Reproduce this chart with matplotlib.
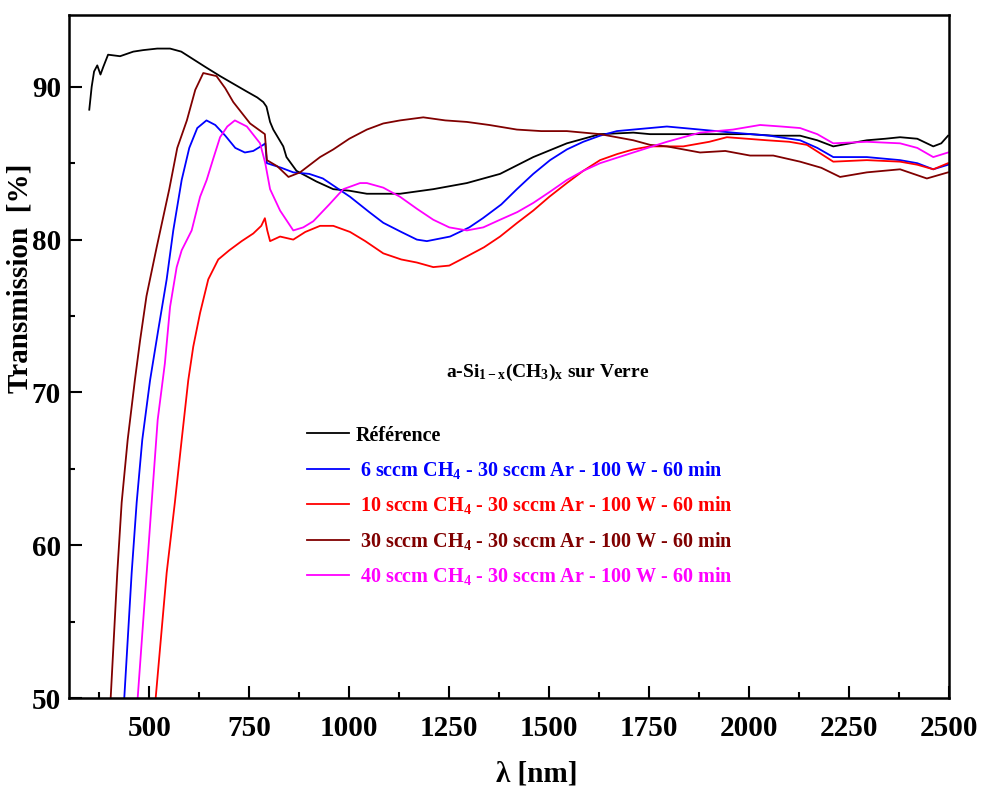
import matplotlib
matplotlib.use("Agg")
from matplotlib import pyplot as plt
from matplotlib.ticker import MultipleLocator

plt.rcParams['font.family'] = ['Liberation Serif', 'DejaVu Serif']
plt.rcParams['font.weight'] = 'bold'
plt.rcParams['mathtext.fontset'] = 'custom'
plt.rcParams['mathtext.rm'] = 'Liberation Serif:bold'
plt.rcParams['mathtext.it'] = 'Liberation Serif:bold'
plt.rcParams['mathtext.bf'] = 'Liberation Serif:bold'

# Référence (verre nu)
ref_x = [350, 356, 362, 370, 378, 385, 397, 427, 460, 485, 520, 552, 580, 610, 640,
         677, 710, 743, 770, 785, 793, 802, 810, 835, 843, 868, 918, 960, 1000, 1044,
         1127, 1210, 1294, 1377, 1460, 1544, 1627, 1710, 1752, 1800, 1877, 1960, 2002,
         2060, 2127, 2170, 2210, 2252, 2294, 2340, 2377, 2420, 2460, 2480, 2497]
ref_y = [88.5, 90.0, 91.0, 91.4, 90.8, 91.3, 92.1, 92.0, 92.3, 92.4, 92.5, 92.5, 92.3, 91.8, 91.3,
         90.7, 90.2, 89.7, 89.3, 89.0, 88.7, 87.7, 87.2, 86.1, 85.4, 84.5, 83.8, 83.3, 83.2, 83.0,
         83.0, 83.3, 83.7, 84.3, 85.4, 86.3, 86.9, 87.0, 86.9, 86.9, 86.9, 86.9, 86.9,
         86.8, 86.8, 86.5, 86.1, 86.3, 86.5, 86.6, 86.7, 86.6, 86.1, 86.3, 86.8]

# 6 sccm CH4
s6_x = [437.5, 456, 468.5, 482.5, 502, 522.5, 543.5, 560, 581, 600, 620, 643, 665, 690,
        715, 739, 760, 785, 790, 794, 830, 860, 900, 934, 1002, 1050, 1085, 1130, 1169,
        1194, 1252, 1300, 1334, 1380, 1419, 1460, 1502, 1544, 1585, 1627, 1669, 1710, 1752,
        1794, 1877, 1959, 2050, 2127, 2170, 2210, 2294, 2377, 2420, 2460, 2497]
s6_y = [50, 58.2, 62.8, 66.9, 70.8, 74.1, 77.4, 80.6, 83.9, 86.0, 87.3, 87.8, 87.5, 86.8,
        86.0, 85.7, 85.8, 86.2, 86.3, 85.0, 84.7, 84.4, 84.3, 84.0, 82.8, 81.8, 81.1, 80.5, 80.0,
        79.9, 80.2, 80.8, 81.4, 82.3, 83.3, 84.3, 85.2, 85.9, 86.4, 86.8, 87.1, 87.2, 87.3,
        87.4, 87.2, 87.0, 86.8, 86.5, 86.0, 85.4, 85.4, 85.2, 85.0, 84.6, 84.9]

# 10 sccm CH4
s10_x = [516, 543.5, 564, 581, 597.5, 610, 627, 647.5, 672.5, 700, 731, 760, 780, 789,
         795, 802, 827, 860, 890, 927, 960, 1002, 1040, 1085, 1130, 1169, 1210, 1250, 1294,
         1337, 1377, 1420, 1460, 1500, 1544, 1585, 1627, 1670, 1710, 1752, 1835, 1900, 1944,
         2044, 2100, 2144, 2210, 2294, 2377, 2420, 2460, 2497]
s10_y = [50, 58.2, 62.8, 66.9, 70.8, 73.0, 75.2, 77.4, 78.7, 79.3, 79.9, 80.4, 80.9, 81.4,
         80.6, 79.9, 80.2, 80.0, 80.5, 80.9, 80.9, 80.5, 79.9, 79.1, 78.7, 78.5, 78.2, 78.3, 78.9,
         79.5, 80.2, 81.1, 81.9, 82.8, 83.7, 84.5, 85.2, 85.6, 85.9, 86.1, 86.1, 86.4, 86.7,
         86.5, 86.4, 86.2, 85.1, 85.2, 85.1, 84.9, 84.6, 85.0]

# 30 sccm CH4
s30_x = [403.5, 420, 431, 446, 464, 477, 493, 518.5, 550, 570, 594, 615, 635, 668, 690,
         710, 752, 789, 794, 820, 848, 877, 927, 960, 1000, 1044, 1085, 1127, 1185, 1240,
         1294, 1350, 1419, 1480, 1544, 1627, 1710, 1752, 1794, 1877, 1940, 2002, 2060, 2127,
         2180, 2227, 2294, 2377, 2444, 2497]
s30_y = [50, 58.2, 62.8, 66.9, 70.8, 73.4, 76.3, 79.5, 83.3, 86.0, 87.8, 89.8, 90.9, 90.7, 89.9,
         89.0, 87.6, 86.9, 85.2, 84.8, 84.1, 84.4, 85.4, 85.9, 86.6, 87.2, 87.6, 87.8, 88.0, 87.8,
         87.7, 87.5, 87.2, 87.1, 87.1, 86.9, 86.5, 86.2, 86.1, 85.7, 85.8, 85.5, 85.5, 85.1,
         84.7, 84.1, 84.4, 84.6, 84.0, 84.4]

# 40 sccm CH4
s40_x = [471, 493.5, 506, 521, 539, 552, 568.5, 581, 606, 627, 643.5, 660, 677, 695, 714,
         744, 777, 790, 802, 827, 860, 885, 910, 950, 985, 1027, 1044, 1085, 1127, 1170,
         1210, 1250, 1294, 1335, 1377, 1420, 1460, 1500, 1544, 1585, 1627, 1710, 1794, 1877,
         1959, 2027, 2080, 2127, 2170, 2210, 2294, 2377, 2420, 2460, 2497]
s40_y = [50, 58.2, 62.8, 68.2, 71.9, 75.6, 78.2, 79.3, 80.6, 82.8, 83.9, 85.3, 86.7, 87.4, 87.8,
         87.4, 86.3, 85.0, 83.3, 81.9, 80.6, 80.8, 81.2, 82.3, 83.3, 83.7, 83.7, 83.4, 82.8, 82.0,
         81.3, 80.8, 80.6, 80.8, 81.3, 81.8, 82.4, 83.1, 83.9, 84.5, 85.0, 85.7, 86.4, 87.0,
         87.2, 87.5, 87.4, 87.3, 86.9, 86.3, 86.4, 86.3, 86.0, 85.4, 85.7]

labels = ["Référence",
          " 6 sccm CH$_4$ - 30 sccm Ar - 100 W - 60 min",
          " 10 sccm CH$_4$ - 30 sccm Ar - 100 W - 60 min",
          " 30 sccm CH$_4$ - 30 sccm Ar - 100 W - 60 min",
          " 40 sccm CH$_4$ - 30 sccm Ar - 100 W - 60 min"]
colors = ["black", "#0000ff", "#ff0000", "#800000", "#ff00ff"]
series = [(ref_x, ref_y), (s6_x, s6_y), (s10_x, s10_y), (s30_x, s30_y), (s40_x, s40_y)]

fig = plt.figure(figsize=(9.84, 7.87), dpi=100)
ax = fig.add_axes([0.0704, 0.113, 0.8943, 0.868])

for (xs, ys), c, lab in zip(series, colors, labels):
    ax.plot(xs, ys, color=c, lw=1.3, label=lab)

ax.set_xlim(300, 2500)
ax.set_ylim(50, 94.7)
ax.xaxis.set_major_locator(MultipleLocator(250))
ax.xaxis.set_minor_locator(MultipleLocator(125))
ax.yaxis.set_major_locator(MultipleLocator(10))
ax.yaxis.set_minor_locator(MultipleLocator(5))
ax.set_xticks([500, 750, 1000, 1250, 1500, 1750, 2000, 2250, 2500])

ax.tick_params(which='both', direction='in', width=1.5, labelsize=21)
ax.tick_params(which='major', length=9)
ax.tick_params(which='minor', length=4.5)
ax.tick_params(axis='x', pad=12)
ax.tick_params(axis='y', pad=6)
for sp in ax.spines.values():
    sp.set_linewidth(1.8)

ax.set_xlabel("λ [nm]", fontsize=21, fontweight='bold')
ax.set_ylabel("Transmission  [%]", fontsize=21, fontweight='bold')
ax.xaxis.set_label_coords(0.531, -0.092)
ax.yaxis.set_label_coords(-0.041, 0.615)

ax.text(1497, 71.3, r"a-Si$_{1-x}$(CH$_3$)$_x$ sur Verre", fontsize=14,
        fontweight='bold', ha='center', va='center')

leg = ax.legend(loc='upper left', bbox_to_anchor=(0.27, 0.399), frameon=False,
                fontsize=14.5, handlelength=2.1, handletextpad=0.3, labelspacing=0.67,
                borderpad=0, borderaxespad=0, labelcolor=colors)

fig.savefig("out.png", dpi=100)
